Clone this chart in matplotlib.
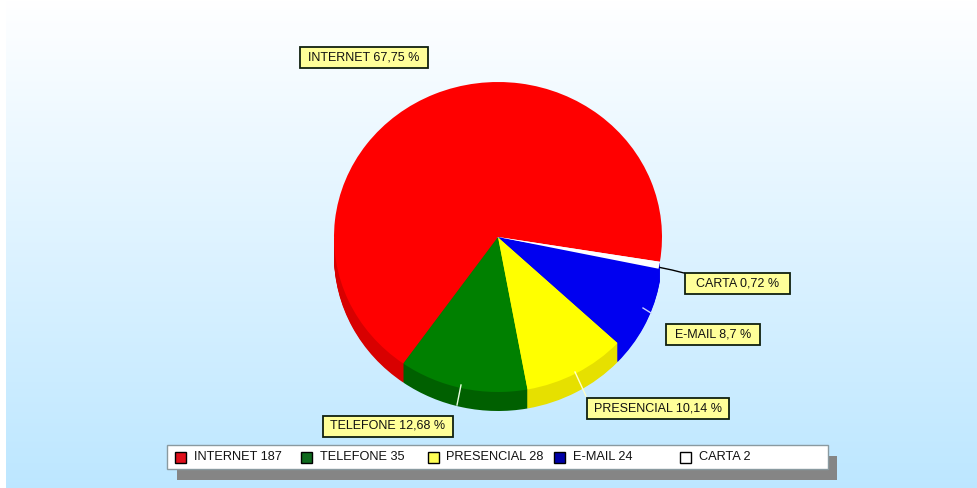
import numpy as np
import matplotlib
matplotlib.use('Agg')
import matplotlib.pyplot as plt
from matplotlib.patches import Rectangle

W, H = 978, 488

categorias = ['INTERNET', 'TELEFONE', 'PRESENCIAL', 'E-MAIL', 'CARTA']
valores = [187, 35, 28, 24, 2]
cores = ['#ff0000', '#008000', '#ffff00', '#0000f0', '#ffffff']
cores_lado = ['#d80000', '#006000', '#e6e000', '#0000f0', '#0000f0']
cores_legenda = ['#e0101c', '#0f6a1e', '#ffff55', '#0000a8', '#ffffff']

# centro de cada etiqueta, em pixels
pos_etiquetas = [(364, 57), (388, 426), (658, 408.5), (713, 334.5), (737.5, 283)]
largura_etiquetas = [128, 130, 142, 94, 105]

plt.rcParams['font.family'] = 'Liberation Sans'

fig = plt.figure(figsize=(W / 100, H / 100), dpi=100)

# eixo de fundo em pixels, com y para baixo
fundo = fig.add_axes([0, 0, 1, 1])

gradiente = np.linspace(0, 1, 256).reshape(-1, 1, 1)
topo = np.array([1.0, 1.0, 1.0])
base = np.array([0.74, 0.905, 1.0])
fundo.imshow(topo + (base - topo) * gradiente, extent=(6, W, H, 0), aspect='auto', zorder=0)
fundo.set_xlim(0, W)
fundo.set_ylim(H, 0)
fundo.axis('off')

# pizza: cx, cy, raios e profundidade em pixels
cx, cy, rx, ry, prof = 498, 237, 164, 155, 19
pizza = fig.add_axes([(cx - rx) / W, 1 - (cy + ry + prof) / H, 2 * rx / W, (2 * ry + prof) / H])

# a lateral sao varias pizzas escuras empilhadas
for d in np.arange(prof, 0, -1):
    w, _ = pizza.pie(valores, colors=cores_lado, startangle=-9.2, center=(0, -d / ry), frame=True)
    w[0].set_theta1(180)  # o vermelho so aparece na parte de baixo, a esquerda
pizza.pie(valores, colors=cores, startangle=-9.2, center=(0, 0), frame=True)
pizza.set_aspect('auto')
pizza.set_xlim(-1, 1)
pizza.set_ylim(-1 - prof / ry, 1)
pizza.axis('off')

# eixo de cima para etiquetas e legenda
topo_ax = fig.add_axes([0, 0, 1, 1])
topo_ax.set_xlim(0, W)
topo_ax.set_ylim(H, 0)
topo_ax.axis('off')
topo_ax.patch.set_alpha(0)

# linhas das etiquetas
topo_ax.plot([660, 672, 684], [267.5, 270, 273], color='black', lw=1)
topo_ax.plot([461, 457], [385, 405], color='#e8ffe0', lw=1)
topo_ax.plot([575, 586], [372, 396], color='#ffffc8', lw=1)
topo_ax.plot([643, 651], [308, 313], color='#c8d0ff', lw=1)

total = sum(valores)
for i, nome in enumerate(categorias):
    pct = round(100 * valores[i] / total, 2)
    texto = f"{nome} {pct:g} %".replace('.', ',')
    x, y = pos_etiquetas[i]
    larg = largura_etiquetas[i]
    topo_ax.add_patch(Rectangle((x - larg / 2, y - 10.5), larg, 21, fc='#ffff99', ec='#10200f', lw=1.3))
    topo_ax.text(x, y, texto, ha='center', va='center', fontsize=9, color='#111111')

# legenda
topo_ax.add_patch(Rectangle((177, 456), 660, 24, fc='#858585', ec='none'))
topo_ax.add_patch(Rectangle((167, 445), 661, 24, fc='white', ec='#8a9aa0', lw=1))
for i, nome in enumerate(categorias):
    x = 175 + i * 126.25
    topo_ax.add_patch(Rectangle((x, 452), 11, 11, fc=cores_legenda[i], ec='black', lw=1))
    topo_ax.text(x + 19, 457.5, f"{nome} {valores[i]}", ha='left', va='center', fontsize=9.2, color='#111111')

fig.savefig('out.png', dpi=100)
